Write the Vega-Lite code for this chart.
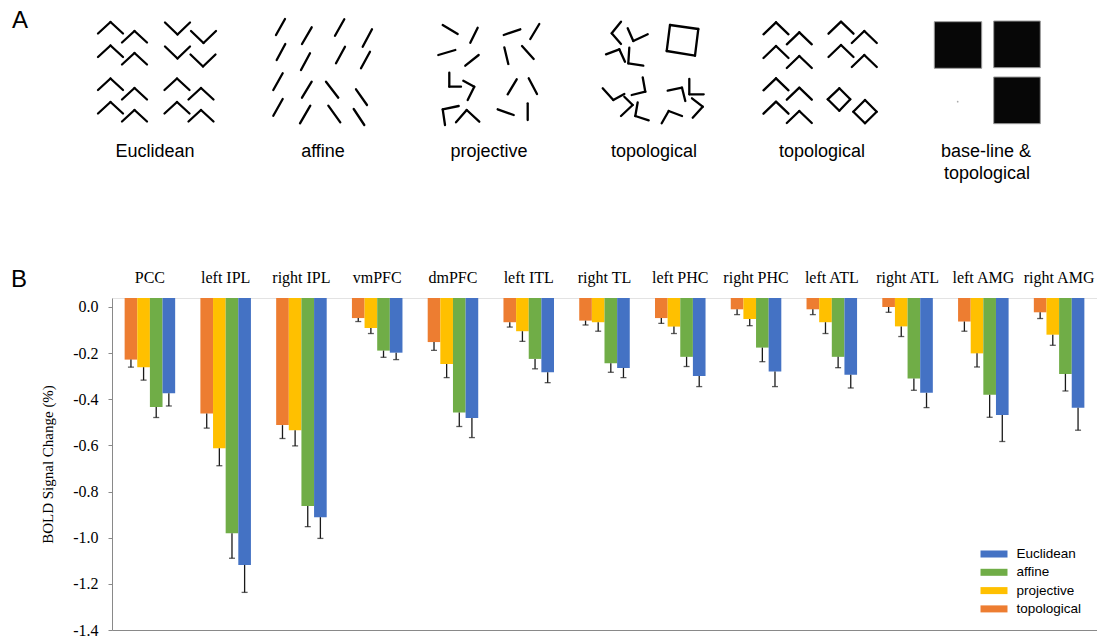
{
"$schema": "https://vega.github.io/schema/vega-lite/v6.json",
"padding": {"left": 10, "top": 0, "right": 0, "bottom": 0},
"background": "white",
"bounds": "flush",
"spacing": 98,
"config": {"view": {"stroke": null}, "font": "Liberation Sans"},
"datasets": {
"segs": [
{"x":97,"y":33.5,"x2":109.5,"y2":22},{"x":109.5,"y":22,"x2":122,"y2":33.5},
{"x":121,"y":42.5,"x2":133.5,"y2":31},{"x":133.5,"y":31,"x2":146,"y2":42.5},
{"x":97,"y":57,"x2":109.5,"y2":45.5},{"x":109.5,"y":45.5,"x2":122,"y2":57},
{"x":121,"y":64.5,"x2":133.5,"y2":53},{"x":133.5,"y":53,"x2":146,"y2":64.5},
{"x":164,"y":22.5,"x2":176.5,"y2":34.5},{"x":176.5,"y":34.5,"x2":189,"y2":22.5},
{"x":190,"y":31,"x2":202.5,"y2":43},{"x":202.5,"y":43,"x2":215,"y2":31},
{"x":164,"y":46.5,"x2":176.5,"y2":58.5},{"x":176.5,"y":58.5,"x2":189,"y2":46.5},
{"x":189.5,"y":54.5,"x2":202,"y2":66.5},{"x":202,"y":66.5,"x2":214.5,"y2":54.5},
{"x":97,"y":90,"x2":109.5,"y2":78.5},{"x":109.5,"y":78.5,"x2":122,"y2":90},
{"x":121,"y":99.5,"x2":133.5,"y2":88},{"x":133.5,"y":88,"x2":146,"y2":99.5},
{"x":97,"y":113.5,"x2":109.5,"y2":102},{"x":109.5,"y":102,"x2":122,"y2":113.5},
{"x":121,"y":121.5,"x2":133.5,"y2":110},{"x":133.5,"y":110,"x2":146,"y2":121.5},
{"x":163.5,"y":90,"x2":176,"y2":78.5},{"x":176,"y":78.5,"x2":188.5,"y2":90},
{"x":187.5,"y":99.5,"x2":200,"y2":88},{"x":200,"y":88,"x2":212.5,"y2":99.5},
{"x":163.5,"y":113.5,"x2":176,"y2":102},{"x":176,"y":102,"x2":188.5,"y2":113.5},
{"x":187.5,"y":121.5,"x2":200,"y2":110},{"x":200,"y":110,"x2":212.5,"y2":121.5},
{"x":275,"y":35,"x2":284,"y2":19},
{"x":301,"y":44,"x2":310.7,"y2":27.3},
{"x":334,"y":35.7,"x2":343.3,"y2":19.3},
{"x":361.7,"y":46.7,"x2":371,"y2":29.3},
{"x":275.7,"y":60,"x2":284.3,"y2":44},
{"x":300,"y":70,"x2":309,"y2":53.3},
{"x":335,"y":63.3,"x2":344,"y2":46.7},
{"x":360,"y":68.3,"x2":369,"y2":51.7},
{"x":272.3,"y":90,"x2":281.7,"y2":73.3},
{"x":301,"y":97.7,"x2":310.7,"y2":81.7},
{"x":325,"y":81.7,"x2":337.3,"y2":97.7},
{"x":355,"y":89.3,"x2":366,"y2":105},
{"x":272.3,"y":115.7,"x2":281.7,"y2":99},
{"x":299,"y":123.3,"x2":309.3,"y2":105.7},
{"x":327.3,"y":105.7,"x2":339.3,"y2":122.3},
{"x":352.7,"y":109,"x2":363.3,"y2":125},
{"x":441.7,"y":25,"x2":456.7,"y2":34},
{"x":476.7,"y":27.7,"x2":469.3,"y2":42.7},
{"x":502.7,"y":35,"x2":519.3,"y2":29.3},
{"x":538.3,"y":24,"x2":529.3,"y2":39},
{"x":437.3,"y":55,"x2":454.3,"y2":50},
{"x":464.3,"y":65.7,"x2":477.7,"y2":55},
{"x":503.3,"y":47.3,"x2":507.3,"y2":64},
{"x":521,"y":46,"x2":532.7,"y2":59},
{"x":448.3,"y":72.7,"x2":448.3,"y2":86.7},{"x":448.3,"y":86.7,"x2":460,"y2":86.7},
{"x":462.3,"y":80.7,"x2":473.3,"y2":86.7},{"x":473.3,"y":86.7,"x2":466.7,"y2":100},
{"x":506.7,"y":94.3,"x2":515.7,"y2":79.3},
{"x":527.7,"y":78.3,"x2":536,"y2":94},
{"x":444,"y":125,"x2":441.7,"y2":109.3},{"x":441.7,"y":109.3,"x2":457.7,"y2":106},
{"x":455,"y":122.3,"x2":465.7,"y2":110},{"x":465.7,"y":110,"x2":478.3,"y2":121.7},
{"x":496.7,"y":109.3,"x2":512.7,"y2":115},
{"x":526.7,"y":103.3,"x2":526.7,"y2":120},
{"x":620,"y":21.7,"x2":610.7,"y2":33.3},{"x":610.7,"y":33.3,"x2":620,"y2":44},
{"x":626.7,"y":28.3,"x2":632.3,"y2":41},{"x":632.3,"y":41,"x2":646.7,"y2":34.3},
{"x":669,"y":25,"x2":697.3,"y2":29},{"x":697.3,"y":29,"x2":694,"y2":55.7},
{"x":694,"y":55.7,"x2":665.7,"y2":51},{"x":665.7,"y":51,"x2":669,"y2":25},
{"x":605,"y":54.3,"x2":618.3,"y2":49.3},{"x":618.3,"y":49.3,"x2":624,"y2":61.7},
{"x":628.3,"y":47.7,"x2":627.3,"y2":63.3},{"x":627.3,"y":63.3,"x2":642.3,"y2":65.7},
{"x":601.7,"y":88.3,"x2":612.3,"y2":100},{"x":612.3,"y":100,"x2":623.3,"y2":94},
{"x":641.7,"y":77.3,"x2":644.3,"y2":91.7},{"x":644.3,"y":91.7,"x2":630.7,"y2":95},
{"x":623.3,"y":96.7,"x2":631.7,"y2":105},{"x":631.7,"y":105,"x2":620,"y2":116},
{"x":636.7,"y":102.3,"x2":634.3,"y2":116},{"x":634.3,"y":116,"x2":647.7,"y2":120.3},
{"x":666.7,"y":90.7,"x2":681,"y2":87.7},{"x":681,"y":87.7,"x2":684.3,"y2":101},
{"x":688.3,"y":79,"x2":688.3,"y2":94.3},{"x":688.3,"y":94.3,"x2":702.7,"y2":94.3},
{"x":691,"y":98.3,"x2":701.7,"y2":106.7},{"x":701.7,"y":106.7,"x2":691.7,"y2":117.7},
{"x":660.7,"y":123.3,"x2":667.7,"y2":111},{"x":667.7,"y":111,"x2":681,"y2":116},
{"x":762.5,"y":34.3,"x2":775,"y2":22.3},{"x":775,"y":22.3,"x2":787.5,"y2":34.3},
{"x":785.8,"y":44.3,"x2":798.3,"y2":32.3},{"x":798.3,"y":32.3,"x2":810.8,"y2":44.3},
{"x":762.5,"y":58,"x2":775,"y2":46},{"x":775,"y":46,"x2":787.5,"y2":58},
{"x":785.8,"y":68,"x2":798.3,"y2":56},{"x":798.3,"y":56,"x2":810.8,"y2":68},
{"x":827.5,"y":33.7,"x2":840,"y2":21.7},{"x":840,"y":21.7,"x2":852.5,"y2":33.7},
{"x":850.8,"y":43,"x2":863.3,"y2":31},{"x":863.3,"y":31,"x2":875.8,"y2":43},
{"x":827.5,"y":57,"x2":840,"y2":45},{"x":840,"y":45,"x2":852.5,"y2":57},
{"x":850.8,"y":67,"x2":863.3,"y2":55},{"x":863.3,"y":55,"x2":875.8,"y2":67},
{"x":762.5,"y":90.3,"x2":775,"y2":78.3},{"x":775,"y":78.3,"x2":787.5,"y2":90.3},
{"x":785.8,"y":99.7,"x2":798.3,"y2":87.7},{"x":798.3,"y":87.7,"x2":810.8,"y2":99.7},
{"x":762.5,"y":113.7,"x2":775,"y2":101.7},{"x":775,"y":101.7,"x2":787.5,"y2":113.7},
{"x":785.8,"y":123,"x2":798.3,"y2":111},{"x":798.3,"y":111,"x2":810.8,"y2":123},
{"x":838.3,"y":88.3,"x2":849.3,"y2":99.3},{"x":849.3,"y":99.3,"x2":838.3,"y2":110.7},
{"x":838.3,"y":110.7,"x2":826.7,"y2":99.3},{"x":826.7,"y":99.3,"x2":838.3,"y2":88.3},
{"x":864,"y":100,"x2":875.7,"y2":111.7},{"x":875.7,"y":111.7,"x2":864,"y2":123.3},
{"x":864,"y":123.3,"x2":852.3,"y2":111.7},{"x":852.3,"y":111.7,"x2":864,"y2":100}
],
"rects": [
{"x":933.3,"y":21.7,"x2":980.7,"y2":68.3},
{"x":992.7,"y":21,"x2":1039.3,"y2":67.7},
{"x":992.7,"y":77,"x2":1039.3,"y2":123.7}
],
"texts": [
{"x":154,"y":152,"t":"Euclidean"},
{"x":322,"y":152,"t":"affine"},
{"x":488,"y":152,"t":"projective"},
{"x":653,"y":152,"t":"topological"},
{"x":821,"y":152,"t":"topological"},
{"x":985,"y":152,"t":"base-line &"},
{"x":986,"y":174,"t":"topological"}
],
"bold": [
{"region":"PCC","cond":"topological","value":-0.228,"low":-0.261},
{"region":"PCC","cond":"projective","value":-0.261,"low":-0.317},
{"region":"PCC","cond":"affine","value":-0.433,"low":-0.479},
{"region":"PCC","cond":"Euclidean","value":-0.374,"low":-0.429},
{"region":"left IPL","cond":"topological","value":-0.462,"low":-0.525},
{"region":"left IPL","cond":"projective","value":-0.612,"low":-0.688},
{"region":"left IPL","cond":"affine","value":-0.981,"low":-1.089},
{"region":"left IPL","cond":"Euclidean","value":-1.118,"low":-1.237},
{"region":"right IPL","cond":"topological","value":-0.512,"low":-0.570},
{"region":"right IPL","cond":"projective","value":-0.534,"low":-0.602},
{"region":"right IPL","cond":"affine","value":-0.863,"low":-0.952},
{"region":"right IPL","cond":"Euclidean","value":-0.911,"low":-1.003},
{"region":"vmPFC","cond":"topological","value":-0.048,"low":-0.063},
{"region":"vmPFC","cond":"projective","value":-0.091,"low":-0.115},
{"region":"vmPFC","cond":"affine","value":-0.189,"low":-0.218},
{"region":"vmPFC","cond":"Euclidean","value":-0.198,"low":-0.228},
{"region":"dmPFC","cond":"topological","value":-0.152,"low":-0.188},
{"region":"dmPFC","cond":"projective","value":-0.247,"low":-0.306},
{"region":"dmPFC","cond":"affine","value":-0.457,"low":-0.518},
{"region":"dmPFC","cond":"Euclidean","value":-0.481,"low":-0.566},
{"region":"left ITL","cond":"topological","value":-0.066,"low":-0.087},
{"region":"left ITL","cond":"projective","value":-0.105,"low":-0.149},
{"region":"left ITL","cond":"affine","value":-0.225,"low":-0.268},
{"region":"left ITL","cond":"Euclidean","value":-0.283,"low":-0.328},
{"region":"right TL","cond":"topological","value":-0.059,"low":-0.078},
{"region":"right TL","cond":"projective","value":-0.066,"low":-0.105},
{"region":"right TL","cond":"affine","value":-0.244,"low":-0.283},
{"region":"right TL","cond":"Euclidean","value":-0.264,"low":-0.306},
{"region":"left PHC","cond":"topological","value":-0.048,"low":-0.071},
{"region":"left PHC","cond":"projective","value":-0.085,"low":-0.115},
{"region":"left PHC","cond":"affine","value":-0.216,"low":-0.258},
{"region":"left PHC","cond":"Euclidean","value":-0.299,"low":-0.345},
{"region":"right PHC","cond":"topological","value":-0.010,"low":-0.033},
{"region":"right PHC","cond":"projective","value":-0.052,"low":-0.081},
{"region":"right PHC","cond":"affine","value":-0.176,"low":-0.237},
{"region":"right PHC","cond":"Euclidean","value":-0.280,"low":-0.345},
{"region":"left ATL","cond":"topological","value":-0.010,"low":-0.033},
{"region":"left ATL","cond":"projective","value":-0.066,"low":-0.115},
{"region":"left ATL","cond":"affine","value":-0.216,"low":-0.263},
{"region":"left ATL","cond":"Euclidean","value":-0.294,"low":-0.351},
{"region":"right ATL","cond":"topological","value":0.0,"low":-0.023},
{"region":"right ATL","cond":"projective","value":-0.084,"low":-0.128},
{"region":"right ATL","cond":"affine","value":-0.310,"low":-0.361},
{"region":"right ATL","cond":"Euclidean","value":-0.372,"low":-0.436},
{"region":"left AMG","cond":"topological","value":-0.063,"low":-0.105},
{"region":"left AMG","cond":"projective","value":-0.201,"low":-0.260},
{"region":"left AMG","cond":"affine","value":-0.380,"low":-0.478},
{"region":"left AMG","cond":"Euclidean","value":-0.468,"low":-0.583},
{"region":"right AMG","cond":"topological","value":-0.023,"low":-0.050},
{"region":"right AMG","cond":"projective","value":-0.120,"low":-0.166},
{"region":"right AMG","cond":"affine","value":-0.290,"low":-0.364},
{"region":"right AMG","cond":"Euclidean","value":-0.437,"low":-0.534}
]
},
"vconcat": [
{
"width": 986, "height": 200,
"layer": [
{"data": {"name": "segs"},
 "mark": {"type": "rule", "stroke": "#000000", "strokeWidth": 2.3, "strokeCap": "round"},
 "encoding": {
  "x": {"field": "x", "type": "quantitative", "scale": {"domain": [111, 1097], "nice": false, "zero": false}, "axis": null},
  "y": {"field": "y", "type": "quantitative", "scale": {"domain": [0, 200], "reverse": true, "nice": false, "zero": false}, "axis": null},
  "x2": {"field": "x2"}, "y2": {"field": "y2"}}},
{"data": {"name": "rects"},
 "mark": {"type": "rect", "fill": "#070707", "stroke": "#9a9a9a", "strokeWidth": 1},
 "encoding": {
  "x": {"field": "x", "type": "quantitative"}, "y": {"field": "y", "type": "quantitative"},
  "x2": {"field": "x2"}, "y2": {"field": "y2"}}},
{"data": {"values": [{"x": 956.7, "y": 101.7}]},
 "mark": {"type": "point", "filled": true, "size": 3, "color": "#888888"},
 "encoding": {"x": {"field": "x", "type": "quantitative"}, "y": {"field": "y", "type": "quantitative"}}},
{"data": {"name": "texts"},
 "mark": {"type": "text", "font": "Liberation Sans", "fontSize": 18, "align": "center", "baseline": "middle", "color": "#000000"},
 "encoding": {"x": {"field": "x", "type": "quantitative"}, "y": {"field": "y", "type": "quantitative"}, "text": {"field": "t"}}},
{"data": {"values": [{"x": 11, "y": 21, "t": "A"}]},
 "mark": {"type": "text", "font": "Liberation Sans", "fontSize": 24, "align": "left", "baseline": "middle", "color": "#000000"},
 "encoding": {"x": {"field": "x", "type": "quantitative"}, "y": {"field": "y", "type": "quantitative"}, "text": {"field": "t"}}}
]
},
{
"width": 985, "height": 332,
"title": {"text": "B", "anchor": "start", "frame": "group", "orient": "top", "fontSize": 24, "font": "Liberation Sans", "fontWeight": "normal", "color": "#000000", "dx": -101, "dy": 23, "offset": 0},
"data": {"name": "bold"},
"view": {"stroke": "#e3e3e3"},
"resolve": {"axis": {"x": "independent", "y": "independent"}},
"layer": [
{"mark": {"type": "bar"},
 "encoding": {
  "x": {"field": "region", "type": "nominal",
   "sort": ["PCC","left IPL","right IPL","vmPFC","dmPFC","left ITL","right TL","left PHC","right PHC","left ATL","right ATL","left AMG","right AMG"],
   "scale": {"paddingInner": 0.333, "paddingOuter": 0.1667},
   "axis": {"orient": "top", "title": null, "ticks": false, "domain": false, "labelAngle": 0, "labelFont": "Liberation Serif", "labelFontSize": 16, "labelColor": "#000000", "labelPadding": 13}},
  "xOffset": {"field": "cond", "type": "nominal", "sort": ["topological","projective","affine","Euclidean"], "scale": {"paddingInner": 0, "paddingOuter": 0}},
  "y": {"field": "value", "type": "quantitative", "scale": {"domain": [-1.4, 0.039], "nice": false, "zero": false},
   "axis": {"orient": "left", "values": [0, -0.2, -0.4, -0.6, -0.8, -1.0, -1.2, -1.4], "labelExpr": "replace(format(datum.value, '.1f'), '\u2212', '-')", "grid": false, "tickSize": 4, "tickColor": "#898989", "domainColor": "#898989", "labelFont": "Liberation Serif", "labelFontSize": 16, "labelColor": "#000000", "labelPadding": 10, "title": "BOLD Signal Change (%)", "titleFont": "Liberation Serif", "titleFontSize": 15, "titleFontWeight": "normal", "titleColor": "#000000", "titlePadding": 17}},
  "y2": {"datum": 0.039},
  "color": {"field": "cond", "type": "nominal",
   "scale": {"domain": ["Euclidean","affine","projective","topological"], "range": ["#4472C4","#70AD47","#FFC000","#ED7D31"]},
   "legend": {"title": null, "orient": "none", "legendX": 875, "legendY": 547, "padding": 0, "symbolType": "M-2,-0.52H2V0.52H-2Z", "symbolSize": 182, "symbolStrokeWidth": 0, "labelFont": "Liberation Sans", "labelFontSize": 13.5, "labelColor": "#000000", "labelOffset": 15.5, "rowPadding": 4.3}}}},
{"mark": {"type": "rule", "color": "#1a1a1a", "strokeWidth": 1.3},
 "encoding": {
  "x": {"field": "region", "type": "nominal", "sort": ["PCC","left IPL","right IPL","vmPFC","dmPFC","left ITL","right TL","left PHC","right PHC","left ATL","right ATL","left AMG","right AMG"],
   "axis": {"orient": "bottom", "title": null, "labels": false, "ticks": false, "domain": true, "domainColor": "#898989", "labelPadding": 0}},
  "xOffset": {"field": "cond", "type": "nominal", "sort": ["topological","projective","affine","Euclidean"]},
  "y": {"field": "value", "type": "quantitative", "axis": null},
  "y2": {"field": "low"}}},
{"mark": {"type": "tick", "color": "#1a1a1a", "thickness": 1.3, "size": 6},
 "encoding": {
  "x": {"field": "region", "type": "nominal", "sort": ["PCC","left IPL","right IPL","vmPFC","dmPFC","left ITL","right TL","left PHC","right PHC","left ATL","right ATL","left AMG","right AMG"], "axis": null},
  "xOffset": {"field": "cond", "type": "nominal", "sort": ["topological","projective","affine","Euclidean"]},
  "y": {"field": "low", "type": "quantitative",
   "axis": {"orient": "right", "title": null, "labels": false, "ticks": false, "grid": false, "domain": true, "domainColor": "#898989"}}}}
]
}
]
}
